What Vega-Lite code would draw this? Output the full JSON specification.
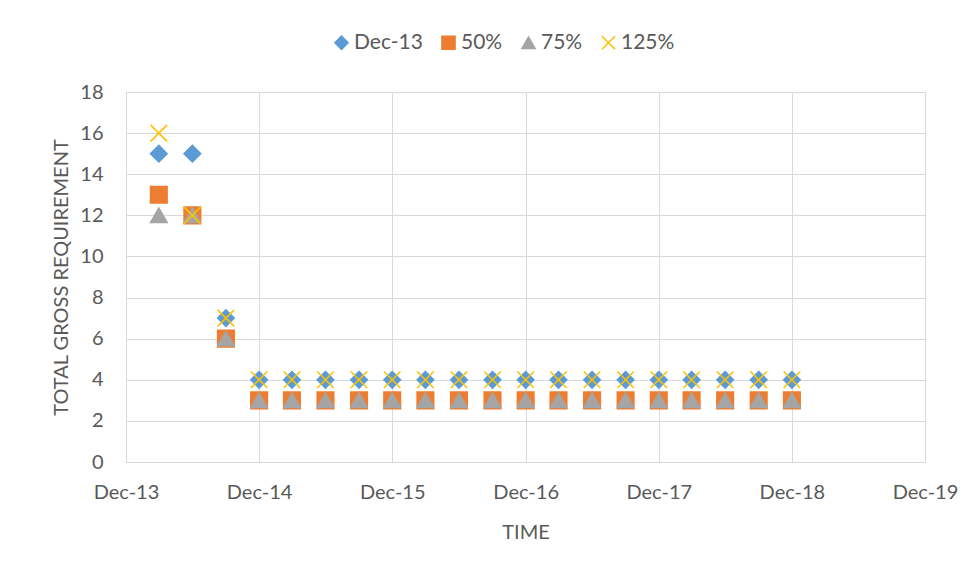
{
  "$schema": "https://vega.github.io/schema/vega-lite/v6.json",
  "width": 799,
  "height": 370,
  "autosize": {"type": "none"},
  "padding": {"left": 126, "top": 92, "right": 54, "bottom": 113},
  "background": "white",
  "config": {
    "font": "Lato",
    "view": {"stroke": "#d9d9d9", "strokeWidth": 1},
    "axis": {
      "labelFont": "Lato",
      "labelFontSize": 20,
      "labelColor": "#595959",
      "titleFont": "Lato",
      "titleFontSize": 20,
      "titleFontWeight": "normal",
      "titleColor": "#595959",
      "gridColor": "#d9d9d9",
      "gridWidth": 1,
      "domainColor": "#d9d9d9",
      "domainWidth": 1,
      "ticks": false
    },
    "legend": {
      "labelFont": "Lato",
      "labelFontSize": 21,
      "labelColor": "#595959"
    }
  },
  "data": {
    "values": [
      {"series": "Dec-13", "date": "2014-03-01", "value": 15},
      {"series": "Dec-13", "date": "2014-06-01", "value": 15},
      {"series": "Dec-13", "date": "2014-09-01", "value": 7},
      {"series": "Dec-13", "date": "2014-12-01", "value": 4},
      {"series": "Dec-13", "date": "2015-03-01", "value": 4},
      {"series": "Dec-13", "date": "2015-06-01", "value": 4},
      {"series": "Dec-13", "date": "2015-09-01", "value": 4},
      {"series": "Dec-13", "date": "2015-12-01", "value": 4},
      {"series": "Dec-13", "date": "2016-03-01", "value": 4},
      {"series": "Dec-13", "date": "2016-06-01", "value": 4},
      {"series": "Dec-13", "date": "2016-09-01", "value": 4},
      {"series": "Dec-13", "date": "2016-12-01", "value": 4},
      {"series": "Dec-13", "date": "2017-03-01", "value": 4},
      {"series": "Dec-13", "date": "2017-06-01", "value": 4},
      {"series": "Dec-13", "date": "2017-09-01", "value": 4},
      {"series": "Dec-13", "date": "2017-12-01", "value": 4},
      {"series": "Dec-13", "date": "2018-03-01", "value": 4},
      {"series": "Dec-13", "date": "2018-06-01", "value": 4},
      {"series": "Dec-13", "date": "2018-09-01", "value": 4},
      {"series": "Dec-13", "date": "2018-12-01", "value": 4},
      {"series": "50%", "date": "2014-03-01", "value": 13},
      {"series": "50%", "date": "2014-06-01", "value": 12},
      {"series": "50%", "date": "2014-09-01", "value": 6},
      {"series": "50%", "date": "2014-12-01", "value": 3},
      {"series": "50%", "date": "2015-03-01", "value": 3},
      {"series": "50%", "date": "2015-06-01", "value": 3},
      {"series": "50%", "date": "2015-09-01", "value": 3},
      {"series": "50%", "date": "2015-12-01", "value": 3},
      {"series": "50%", "date": "2016-03-01", "value": 3},
      {"series": "50%", "date": "2016-06-01", "value": 3},
      {"series": "50%", "date": "2016-09-01", "value": 3},
      {"series": "50%", "date": "2016-12-01", "value": 3},
      {"series": "50%", "date": "2017-03-01", "value": 3},
      {"series": "50%", "date": "2017-06-01", "value": 3},
      {"series": "50%", "date": "2017-09-01", "value": 3},
      {"series": "50%", "date": "2017-12-01", "value": 3},
      {"series": "50%", "date": "2018-03-01", "value": 3},
      {"series": "50%", "date": "2018-06-01", "value": 3},
      {"series": "50%", "date": "2018-09-01", "value": 3},
      {"series": "50%", "date": "2018-12-01", "value": 3},
      {"series": "75%", "date": "2014-03-01", "value": 12},
      {"series": "75%", "date": "2014-06-01", "value": 12},
      {"series": "75%", "date": "2014-09-01", "value": 6},
      {"series": "75%", "date": "2014-12-01", "value": 3},
      {"series": "75%", "date": "2015-03-01", "value": 3},
      {"series": "75%", "date": "2015-06-01", "value": 3},
      {"series": "75%", "date": "2015-09-01", "value": 3},
      {"series": "75%", "date": "2015-12-01", "value": 3},
      {"series": "75%", "date": "2016-03-01", "value": 3},
      {"series": "75%", "date": "2016-06-01", "value": 3},
      {"series": "75%", "date": "2016-09-01", "value": 3},
      {"series": "75%", "date": "2016-12-01", "value": 3},
      {"series": "75%", "date": "2017-03-01", "value": 3},
      {"series": "75%", "date": "2017-06-01", "value": 3},
      {"series": "75%", "date": "2017-09-01", "value": 3},
      {"series": "75%", "date": "2017-12-01", "value": 3},
      {"series": "75%", "date": "2018-03-01", "value": 3},
      {"series": "75%", "date": "2018-06-01", "value": 3},
      {"series": "75%", "date": "2018-09-01", "value": 3},
      {"series": "75%", "date": "2018-12-01", "value": 3},
      {"series": "125%", "date": "2014-03-01", "value": 16},
      {"series": "125%", "date": "2014-06-01", "value": 12},
      {"series": "125%", "date": "2014-09-01", "value": 7},
      {"series": "125%", "date": "2014-12-01", "value": 4},
      {"series": "125%", "date": "2015-03-01", "value": 4},
      {"series": "125%", "date": "2015-06-01", "value": 4},
      {"series": "125%", "date": "2015-09-01", "value": 4},
      {"series": "125%", "date": "2015-12-01", "value": 4},
      {"series": "125%", "date": "2016-03-01", "value": 4},
      {"series": "125%", "date": "2016-06-01", "value": 4},
      {"series": "125%", "date": "2016-09-01", "value": 4},
      {"series": "125%", "date": "2016-12-01", "value": 4},
      {"series": "125%", "date": "2017-03-01", "value": 4},
      {"series": "125%", "date": "2017-06-01", "value": 4},
      {"series": "125%", "date": "2017-09-01", "value": 4},
      {"series": "125%", "date": "2017-12-01", "value": 4},
      {"series": "125%", "date": "2018-03-01", "value": 4},
      {"series": "125%", "date": "2018-06-01", "value": 4},
      {"series": "125%", "date": "2018-09-01", "value": 4},
      {"series": "125%", "date": "2018-12-01", "value": 4}
    ]
  },
  "mark": {"type": "point", "filled": true, "size": 272, "strokeWidth": 1.6, "opacity": 1},
  "encoding": {
    "x": {
      "field": "date",
      "type": "temporal",
      "title": "TIME",
      "scale": {
        "type": "utc",
        "domain": [
          {"year": 2013, "month": 12, "date": 1, "utc": true},
          {"year": 2019, "month": 12, "date": 1, "utc": true}
        ]
      },
      "axis": {
        "values": [
          {"year": 2013, "month": 12, "date": 1, "utc": true},
          {"year": 2014, "month": 12, "date": 1, "utc": true},
          {"year": 2015, "month": 12, "date": 1, "utc": true},
          {"year": 2016, "month": 12, "date": 1, "utc": true},
          {"year": 2017, "month": 12, "date": 1, "utc": true},
          {"year": 2018, "month": 12, "date": 1, "utc": true},
          {"year": 2019, "month": 12, "date": 1, "utc": true}
        ],
        "labelExpr": "utcFormat(datum.value, '%b-%y')",
        "labelPadding": 20,
        "titlePadding": 20,
        "labelFlush": false,
        "labelOverlap": false
      }
    },
    "y": {
      "field": "value",
      "type": "quantitative",
      "title": "TOTAL GROSS REQUIREMENT",
      "scale": {"domain": [0, 18], "nice": false},
      "axis": {
        "values": [0, 2, 4, 6, 8, 10, 12, 14, 16, 18],
        "labelPadding": 23,
        "titlePadding": 8
      }
    },
    "color": {
      "field": "series",
      "type": "nominal",
      "scale": {
        "domain": ["Dec-13", "50%", "75%", "125%"],
        "range": ["#5B9BD5", "#ED7D31", "#A5A5A5", "#FFC000"]
      },
      "legend": {
        "title": null,
        "orient": "none",
        "direction": "horizontal",
        "legendX": 205,
        "legendY": -60,
        "padding": 0,
        "symbolSize": 170,
        "symbolStrokeWidth": 1.6,
        "labelOffset": 2,
        "columnPadding": 15
      }
    },
    "stroke": {
      "field": "series",
      "type": "nominal",
      "scale": {
        "domain": ["Dec-13", "50%", "75%", "125%"],
        "range": ["#5B9BD5", "#ED7D31", "#A5A5A5", "#FFC000"]
      },
      "legend": {
        "title": null,
        "orient": "none",
        "direction": "horizontal",
        "legendX": 205,
        "legendY": -60,
        "padding": 0,
        "symbolSize": 170,
        "symbolStrokeWidth": 1.6,
        "labelOffset": 2,
        "columnPadding": 15
      }
    },
    "shape": {
      "field": "series",
      "type": "nominal",
      "scale": {
        "domain": ["Dec-13", "50%", "75%", "125%"],
        "range": ["diamond", "square", "triangle-up", "M-1,-1L1,1M-1,1L1,-1"]
      },
      "legend": {
        "title": null,
        "orient": "none",
        "direction": "horizontal",
        "legendX": 205,
        "legendY": -60,
        "padding": 0,
        "symbolSize": 170,
        "symbolStrokeWidth": 1.6,
        "labelOffset": 2,
        "columnPadding": 15
      }
    }
  }
}
